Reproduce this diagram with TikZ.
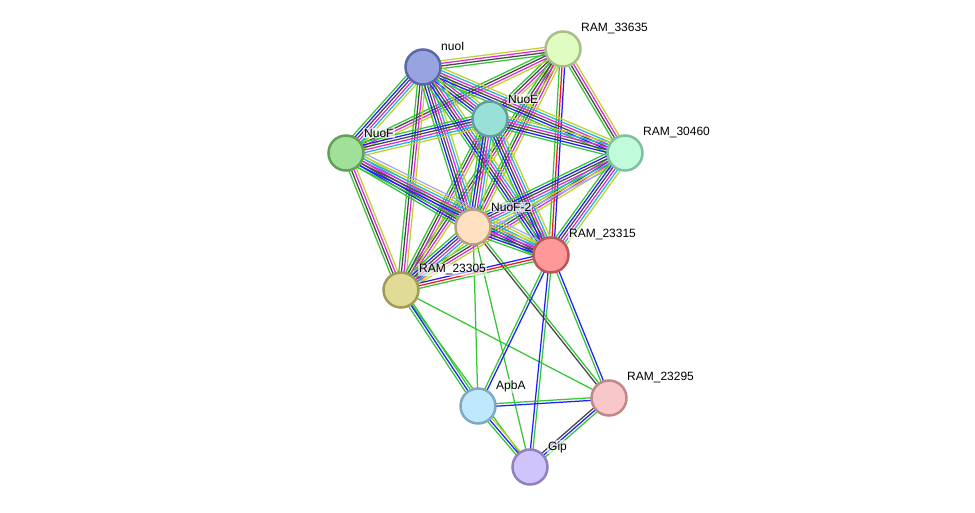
\documentclass[tikz,border=0pt]{standalone}
\usepackage{fontspec}
\setmainfont{Liberation Sans}
\usetikzlibrary{calc,backgrounds}
\definecolor{cnb}{RGB}{51,200,51}
\definecolor{cfu}{RGB}{255,20,20}
\definecolor{cco}{RGB}{30,30,255}
\definecolor{cex}{RGB}{70,70,70}
\definecolor{cmg}{RGB}{220,40,220}
\definecolor{cdb}{RGB}{30,180,220}
\definecolor{ctm}{RGB}{190,210,40}
\definecolor{cho}{RGB}{165,165,255}
\tikzset{
  pnode/.style={circle, minimum size=35pt, inner sep=0pt, line width=2.5pt},
  lbl/.style={anchor=west, font=\fontsize{12}{14}\selectfont, fill=white, fill opacity=0.6, text opacity=1, inner sep=1pt},
  edgeline/.style={line width=1.25pt}
}
\def\efull{cnb,cco,cex,cmg,cdb,ctm}
\def\epart{cnb,cex,cmg,ctm}
\newcommand\sedge[3]{%
  \edef\elist{#3}%
  \gdef\ecount{0}%
  \foreach \ecol in \elist {\pgfmathtruncatemacro\etmp{\ecount+1}\xdef\ecount{\etmp}}%
  \foreach \ecol [count=\ei] in \elist {%
    \pgfmathsetmacro\eoff{(\ei-(\ecount+1)/2)*2.6}%
    \draw[edgeline,draw=\ecol] ($(#1.center)!\eoff pt!90:(#2.center)$) -- ($(#2.center)!\eoff pt!-90:(#1.center)$);%
  }%
}
\begin{document}
\begin{tikzpicture}[x=1pt,y=-1pt]
\useasboundingbox (0,0) rectangle (975,513);
% nodes
\node[pnode, fill={rgb,255:red,152;green,164;blue,224}, draw={rgb,255:red,90;green,104;blue,168}] (nuoI) at (423,67) {};
\node[pnode, fill={rgb,255:red,224;green,252;blue,192}, draw={rgb,255:red,168;green,192;blue,136}] (r33635) at (563,49) {};
\node[pnode, fill={rgb,255:red,152;green,224;blue,216}, draw={rgb,255:red,96;green,160;blue,152}] (nuoE) at (490,119) {};
\node[pnode, fill={rgb,255:red,160;green,224;blue,152}, draw={rgb,255:red,96;green,160;blue,88}] (nuoF) at (346,153) {};
\node[pnode, fill={rgb,255:red,192;green,252;blue,220}, draw={rgb,255:red,128;green,192;blue,160}] (r30460) at (625,153) {};
\node[pnode, fill={rgb,255:red,255;green,224;blue,192}, draw={rgb,255:red,184;green,160;blue,128}] (nuoF2) at (473,227) {};
\node[pnode, fill={rgb,255:red,255;green,152;blue,152}, draw={rgb,255:red,184;green,88;blue,88}] (r23315) at (551,255) {};
\node[pnode, fill={rgb,255:red,224;green,220;blue,152}, draw={rgb,255:red,160;green,156;blue,88}] (r23305) at (401,290) {};
\node[pnode, fill={rgb,255:red,192;green,232;blue,252}, draw={rgb,255:red,128;green,168;blue,192}] (apbA) at (478,406) {};
\node[pnode, fill={rgb,255:red,248;green,200;blue,200}, draw={rgb,255:red,192;green,136;blue,136}] (r23295) at (609,398) {};
\node[pnode, fill={rgb,255:red,208;green,196;blue,252}, draw={rgb,255:red,144;green,128;blue,192}] (gip) at (530,467) {};
% labels
\node[lbl] (l1) at ($(nuoI)+(17,-21)$) {nuoI};
\node[lbl] (l2) at ($(r33635)+(17,-20)$) {RAM\_33635};
\node[lbl] (l3) at ($(nuoE)+(17,-20)$) {NuoE};
\node[lbl] (l4) at ($(nuoF)+(17,-20)$) {NuoF};
\node[lbl] (l5) at ($(r30460)+(17,-20)$) {RAM\_30460};
\node[lbl] (l6) at ($(nuoF2)+(17,-20)$) {NuoF-2};
\node[lbl] (l7) at ($(r23315)+(17,-20)$) {RAM\_23315};
\node[lbl] (l8) at ($(r23305)+(17,-20)$) {RAM\_23305};
\node[lbl] (l9) at ($(apbA)+(17,-20)$) {ApbA};
\node[lbl] (l10) at ($(r23295)+(17,-20)$) {RAM\_23295};
\node[lbl] (l11) at ($(gip)+(17,-20)$) {Gip};
\begin{pgfonlayer}{background}
\fill[white] (0,0) rectangle (975,513);
% lower edges
\sedge{r23305}{r23295}{cnb}
\sedge{r23305}{gip}{cnb}
\sedge{r23305}{apbA}{cnb,cco,cnb}
\sedge{nuoF2}{apbA}{cnb}
\sedge{nuoF2}{gip}{cnb}
\sedge{nuoF2}{r23295}{cex,cnb}
\sedge{r23315}{apbA}{cnb,cco}
\sedge{r23315}{gip}{cco,cnb}
\sedge{r23315}{r23295}{cnb,cco}
\sedge{apbA}{r23295}{cco,cnb}
\sedge{apbA}{gip}{cnb,cco,ctm}
\sedge{r23295}{gip}{cex,cco,cnb}
% cluster partial
\sedge{nuoI}{r33635}{\epart}
\sedge{r33635}{nuoE}{\epart}
\sedge{r33635}{nuoF}{\epart}
\sedge{r33635}{r30460}{\epart}
\sedge{r33635}{nuoF2}{\epart}
\sedge{r33635}{r23305}{\epart}
\sedge{nuoI}{r23305}{\epart}
\sedge{nuoE}{r23305}{\epart}
\sedge{nuoF}{r23305}{\epart}
\sedge{r30460}{r23305}{\epart}
\sedge{r33635}{r23315}{cnb,cfu,cco}
\sedge{r23305}{r23315}{cnb,cfu,cco}
% cluster full
\sedge{nuoI}{nuoE}{\efull}
\sedge{nuoI}{nuoF}{\efull}
\sedge{nuoI}{r30460}{\efull}
\sedge{nuoI}{nuoF2}{\efull}
\sedge{nuoI}{r23315}{\efull}
\sedge{nuoE}{nuoF}{\efull}
\sedge{nuoE}{r30460}{\efull}
\sedge{nuoE}{nuoF2}{\efull}
\sedge{nuoE}{r23315}{\efull}
\sedge{nuoF}{nuoF2}{\efull}
\sedge{nuoF}{r23315}{cnb,cco,cex,cmg,cdb,ctm,cho}
\sedge{r30460}{nuoF2}{cnb,cco,cex,cmg,cdb,ctm,cho}
\sedge{r30460}{r23315}{\efull}
\sedge{nuoF2}{r23315}{\efull}
\sedge{nuoF2}{r23305}{\efull}
\end{pgfonlayer}
\end{tikzpicture}
\end{document}
